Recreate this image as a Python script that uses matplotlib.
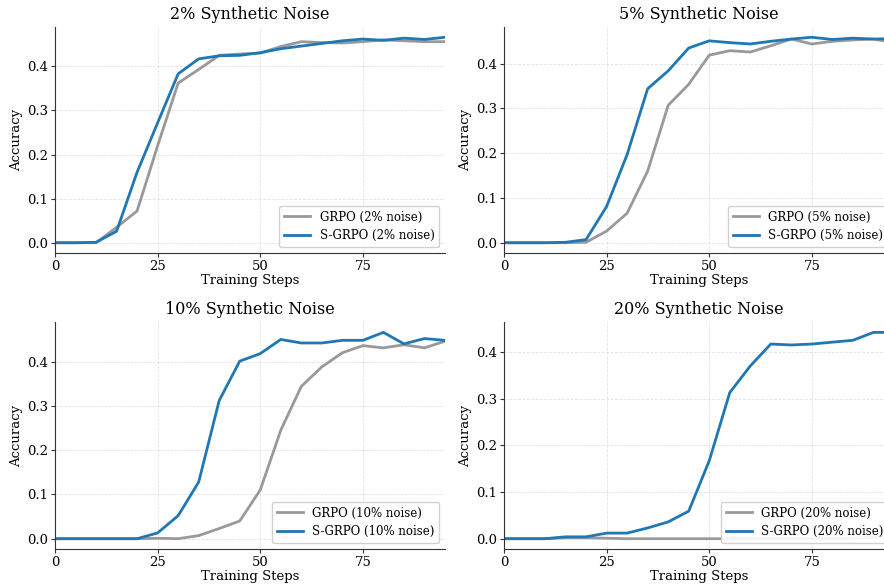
# S-GRPO vs GRPO under synthetic label noise

import matplotlib
matplotlib.use("Agg")
import matplotlib.pyplot as plt

steps = list(range(0, 100, 5))

grpo_2 = [0, 0, 0, 0.035, 0.072, 0.22, 0.362, 0.393, 0.425, 0.428,
          0.430, 0.445, 0.456, 0.454, 0.453, 0.456, 0.460, 0.458, 0.456, 0.456]
sgrpo_2 = [0, 0, 0.001, 0.026, 0.16, 0.272, 0.383, 0.417, 0.424, 0.425,
           0.431, 0.440, 0.446, 0.452, 0.458, 0.462, 0.459, 0.464, 0.461, 0.466]

grpo_5 = [0, 0, 0, 0, 0.001, 0.026, 0.066, 0.16, 0.307, 0.354,
          0.419, 0.429, 0.426, 0.440, 0.455, 0.444, 0.450, 0.453, 0.455, 0.447]
sgrpo_5 = [0, 0, 0, 0.001, 0.007, 0.081, 0.197, 0.344, 0.384, 0.435,
           0.451, 0.447, 0.444, 0.450, 0.455, 0.459, 0.454, 0.457, 0.455, 0.456]

grpo_10 = [0, 0, 0, 0, 0, 0.001, 0.0, 0.007, 0.023, 0.040,
           0.110, 0.245, 0.344, 0.388, 0.420, 0.436, 0.431, 0.438, 0.431, 0.446]
sgrpo_10 = [0, 0, 0, 0, 0, 0.013, 0.052, 0.128, 0.312, 0.401,
            0.418, 0.450, 0.442, 0.442, 0.448, 0.448, 0.466, 0.440, 0.452, 0.448]

grpo_20 = [0, 0, 0, 0.002, 0.002, 0.001, 0, 0, 0, 0,
           0, 0, 0, 0, 0, 0, 0, 0.001, 0.003, 0.006]
sgrpo_20 = [0, 0, 0, 0.004, 0.004, 0.012, 0.012, 0.023, 0.036, 0.059,
            0.167, 0.313, 0.370, 0.417, 0.415, 0.417, 0.421, 0.425, 0.442, 0.442]

noise_levels = ["2%", "5%", "10%", "20%"]
grpo_runs = [grpo_2, grpo_5, grpo_10, grpo_20]
sgrpo_runs = [sgrpo_2, sgrpo_5, sgrpo_10, sgrpo_20]

plt.rcParams['font.family'] = ['DejaVu Serif']

fig = plt.figure(figsize=(8.84, 5.88), dpi=100)

# axes boxes in figure fractions (right column runs slightly off the canvas)
boxes = [
    [0.0622, 0.5697, 0.4412, 0.3844],
    [0.5701, 0.5697, 0.4412, 0.3844],
    [0.0622, 0.0663, 0.4412, 0.3860],
    [0.5701, 0.0663, 0.4412, 0.3860],
]

for box, lvl, g, s in zip(boxes, noise_levels, grpo_runs, sgrpo_runs):
    ax = fig.add_axes(box)
    ax.plot(steps, g, color="#999999", lw=2, label="GRPO (%s noise)" % lvl)
    ax.plot(steps, s, color="#1f77b4", lw=2, label="S-GRPO (%s noise)" % lvl)
    ax.set_xlim(0, 95)
    ax.set_xticks([0, 25, 50, 75])
    ax.set_yticks([0, 0.1, 0.2, 0.3, 0.4])
    ax.set_title("%s Synthetic Noise" % lvl, fontsize=11.5)
    ax.set_xlabel("Training Steps", fontsize=9.5, labelpad=1)
    ax.set_ylabel("Accuracy", fontsize=9.5, labelpad=3)
    ax.grid(True, ls="--", lw=0.6, color="#e3e3e3")
    ax.set_axisbelow(True)
    for side in ["top", "right"]:
        ax.spines[side].set_visible(False)
    for side in ["left", "bottom"]:
        ax.spines[side].set_color("#333333")
    ax.tick_params(labelsize=9.5, length=3, color="#333333", pad=2)
    ax.legend(loc="lower right", fontsize=8.5, framealpha=0.9, handlelength=2.2)

plt.savefig("out.png", dpi=100)
